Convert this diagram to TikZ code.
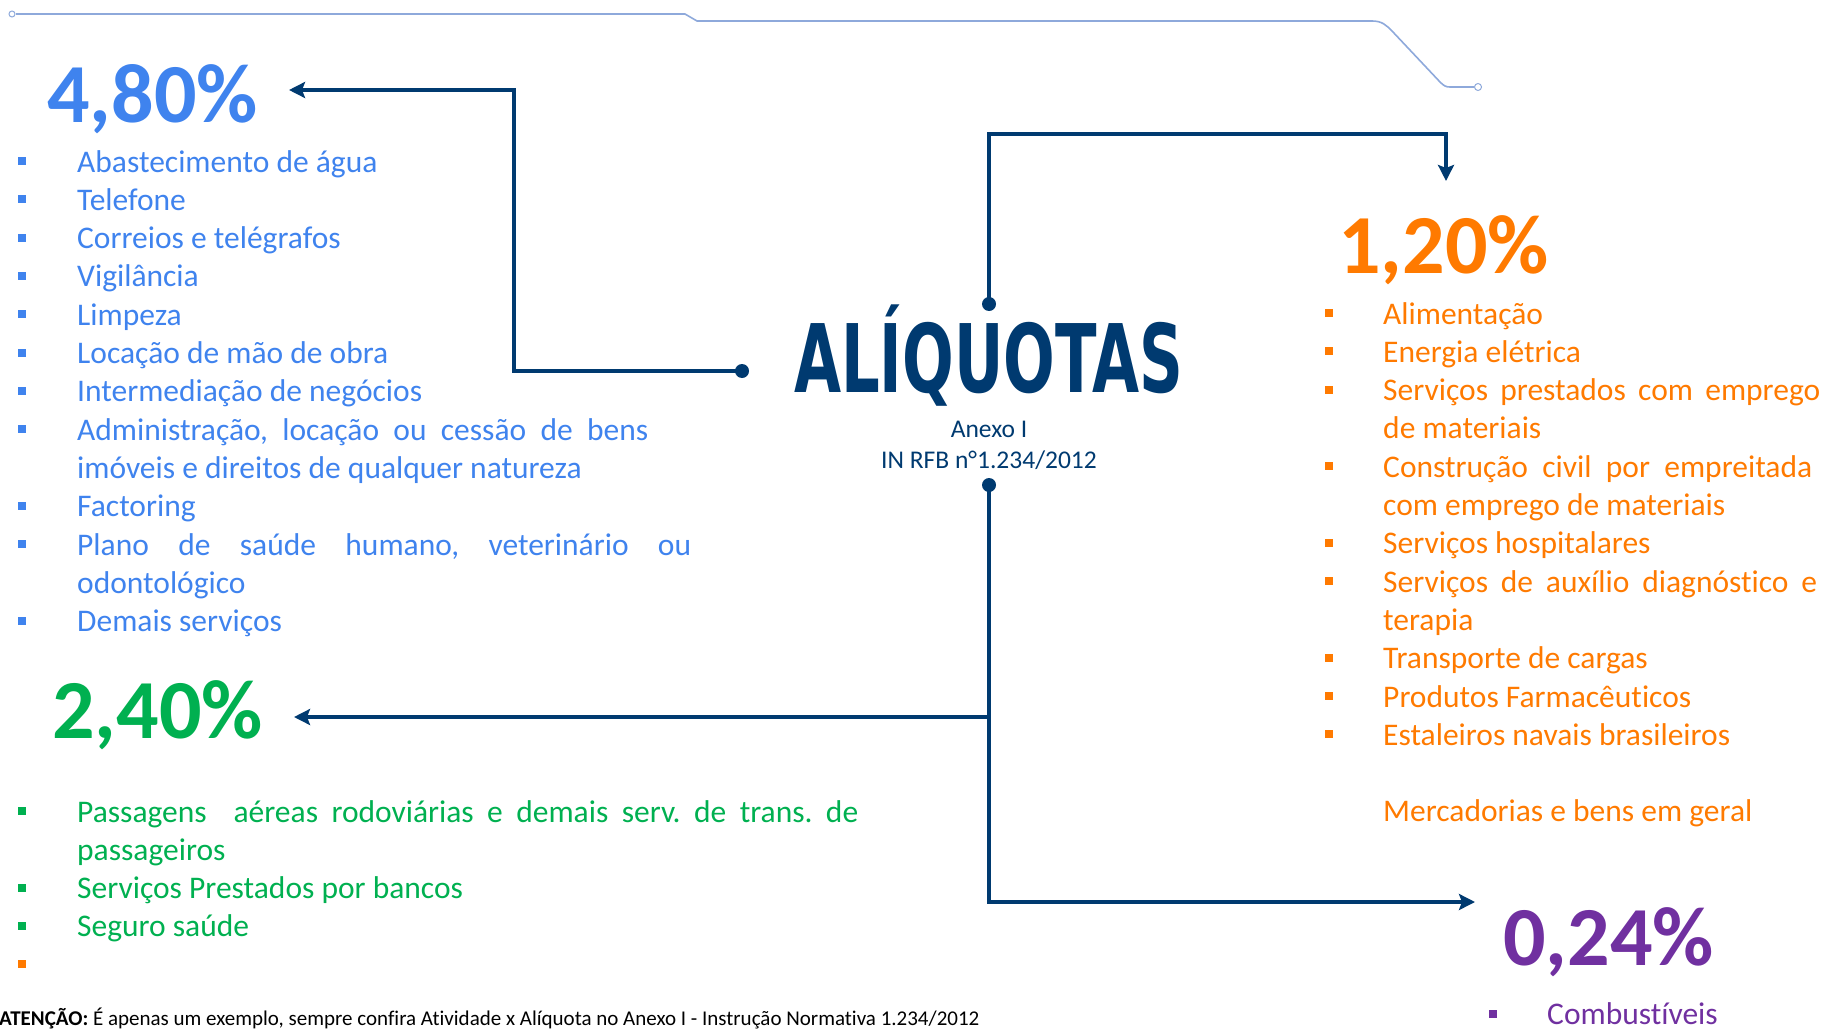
\documentclass[tikz,border=0pt]{standalone}
\usepackage{fontspec}
\usepackage{graphicx}
\setmainfont{Carlito}[Ligatures={NoCommon}]
\newfontfamily\titlefont{DejaVu Sans}
\usetikzlibrary{arrows.meta}
\definecolor{navy}{HTML}{003A70}
\definecolor{cblue}{HTML}{3F83EE}
\definecolor{corange}{HTML}{FF7A00}
\definecolor{cgreen}{HTML}{00B050}
\definecolor{cpurple}{HTML}{7030A0}
\definecolor{deco}{HTML}{8EA9DB}
\tikzset{
  txt/.style={anchor=base west, inner sep=0pt, font=\fontsize{31.5}{38}\selectfont},
  pct/.style={anchor=base west, inner sep=0pt, font=\fontsize{84}{90}\selectfont\bfseries},
  bul/.style={rectangle, minimum size=8pt, inner sep=0pt},
  dot/.style={circle, fill=navy, minimum size=14pt, inner sep=0pt},
  conn/.style={draw=navy, line width=3.5pt},
  arr/.style={conn, -{Stealth[length=16pt,width=16pt,inset=3pt]}},
}
\begin{document}
\frenchspacing
\begin{tikzpicture}[x=1pt,y=-1pt]
\useasboundingbox (0,0) rectangle (1827,1030);
% decorative top line
\draw[deco, line width=1.6pt] (16,14) -- (685,14) -- (697,21) -- (1372,21)
  .. controls (1382,21) and (1386,25) .. (1392,31) -- (1440,82)
  .. controls (1444,86) and (1446,87) .. (1450,87) -- (1474,87);
\node[draw=deco, circle, line width=1pt, minimum size=6pt, inner sep=0pt] (o1) at (12,14) {};
\node[draw=deco, circle, line width=1pt, minimum size=7pt, inner sep=0pt] (o2) at (1478,87) {};

% title
\node[anchor=base, inner sep=0pt, text=navy] (title) at (988.5,392)
  {\scalebox{0.643}[1]{\fontsize{94.6}{100}\selectfont\titlefont\bfseries ALÍQUOTAS}};
\node[anchor=base, inner sep=0pt, text=navy, font=\fontsize{25.5}{28}\selectfont] (anexo) at (989,437) {Anexo I};
\node[anchor=base, inner sep=0pt, text=navy, font=\fontsize{25.5}{28}\selectfont] (in) at (989,468) {IN RFB n°1.234/2012};

% dots
\node[dot] (dtop) at (989,304) {};
\node[dot] (dbot) at (989,485) {};
\node[dot] (dleft) at (742,371) {};

% percentages
\node[pct, text=cblue] (p480) at (47,122) {4,80\%};
\node[pct, text=corange] (p120) at (1338,273) {1,20\%};
\node[pct, text=cgreen] (p240) at (52,738) {2,40\%};
\node[pct, text=cpurple] (p024) at (1503,965) {0,24\%};

% connectors
\coordinate (t480) at (289,90);
\coordinate (c480) at (514,90);
\coordinate (t120) at (1446,181);
\coordinate (c120) at (1446,134);
\coordinate (t240) at (294,717);
\coordinate (b240) at (989,717);
\coordinate (t024) at (1475,902);
\draw[arr] (dleft.center) -| (c480) -- (t480);
\draw[arr] (dtop.center) |- (c120) -- (t120);
\draw[arr] (dbot.center) |- (t024);
\draw[arr] (b240) -- (t240);

% blue list
\begin{scope}[every node/.append style={text=cblue}]
\node[txt] (b1) at (77,172.0) {Abastecimento de água};
\node[txt] (b2) at (77,210.3) {Telefone};
\node[txt] (b3) at (77,248.6) {Correios e telégrafos};
\node[txt] (b4) at (77,286.9) {Vigilância};
\node[txt] (b5) at (77,325.2) {Limpeza};
\node[txt] (b6) at (77,363.5) {Locação de mão de obra};
\node[txt] (b7) at (77,401.8) {Intermediação de negócios};
\node[txt] (b8) at (77,440.1) {\makebox[571pt][s]{Administração, locação ou cessão de bens}};
\node[txt] (b8b) at (77,478.4) {imóveis e direitos de qualquer natureza};
\node[txt] (b9) at (77,516.7) {Factoring};
\node[txt] (b10) at (77,555.0) {\makebox[614pt][s]{Plano de saúde humano, veterinário ou}};
\node[txt] (b10b) at (77,593.3) {odontológico};
\node[txt] (b11) at (77,631.6) {Demais serviços};
\end{scope}
\foreach \y/\n in {172.0/1,210.3/2,248.6/3,286.9/4,325.2/5,363.5/6,401.8/7,440.1/8,516.7/9,555.0/10,631.6/11}
  \node[bul, fill=cblue] (bb\n) at (22,\y-11) {};

% orange list
\begin{scope}[every node/.append style={text=corange}]
\node[txt] (o01) at (1383,324.0) {Alimentação};
\node[txt] (o02) at (1383,362.3) {Energia elétrica};
\node[txt] (o03) at (1383,400.6) {\makebox[437pt][s]{Serviços prestados com emprego}};
\node[txt] (o03b) at (1383,438.9) {de materiais};
\node[txt] (o04) at (1383,477.2) {\makebox[429pt][s]{Construção civil por empreitada}};
\node[txt] (o04b) at (1383,515.5) {com emprego de materiais};
\node[txt] (o05) at (1383,553.8) {Serviços hospitalares};
\node[txt] (o06) at (1383,592.1) {\makebox[434pt][s]{Serviços de auxílio diagnóstico e}};
\node[txt] (o06b) at (1383,630.4) {terapia};
\node[txt] (o07) at (1383,668.7) {Transporte de cargas};
\node[txt] (o08) at (1383,707.0) {Produtos Farmacêuticos};
\node[txt] (o09) at (1383,745.3) {Estaleiros navais brasileiros};
\node[txt] (o10) at (1383,821.9) {Mercadorias e bens em geral};
\end{scope}
\foreach \y/\n in {324.0/1,362.3/2,400.6/3,477.2/4,553.8/5,592.1/6,668.7/7,707.0/8,745.3/9}
  \node[bul, fill=corange] (ob\n) at (1329,\y-11) {};

% green list
\begin{scope}[every node/.append style={text=cgreen}]
\node[txt] (g1) at (77,822.0) {\makebox[781pt][s]{Passagens\ \ aéreas rodoviárias e demais serv. de trans. de}};
\node[txt] (g1b) at (77,860.3) {passageiros};
\node[txt] (g2) at (77,898.6) {Serviços Prestados por bancos};
\node[txt] (g3) at (77,936.9) {Seguro saúde};
\end{scope}
\foreach \y/\n in {822.0/1,898.6/2,936.9/3}
  \node[bul, fill=cgreen] (gb\n) at (22,\y-11) {};
\node[bul, fill=corange] (gb4) at (22,964) {};

% purple
\node[txt, text=cpurple] (u1) at (1547,1024) {Combustíveis};
\node[bul, fill=cpurple] (ub1) at (1493,1014) {};

% footnote
\node[anchor=base west, inner sep=0pt, font=\fontsize{21}{24}\selectfont] (note) at (-1,1025)
  {\textbf{ATENÇÃO:} É apenas um exemplo, sempre confira Atividade x Alíquota no Anexo I - Instrução Normativa 1.234/2012};
\end{tikzpicture}
\end{document}
